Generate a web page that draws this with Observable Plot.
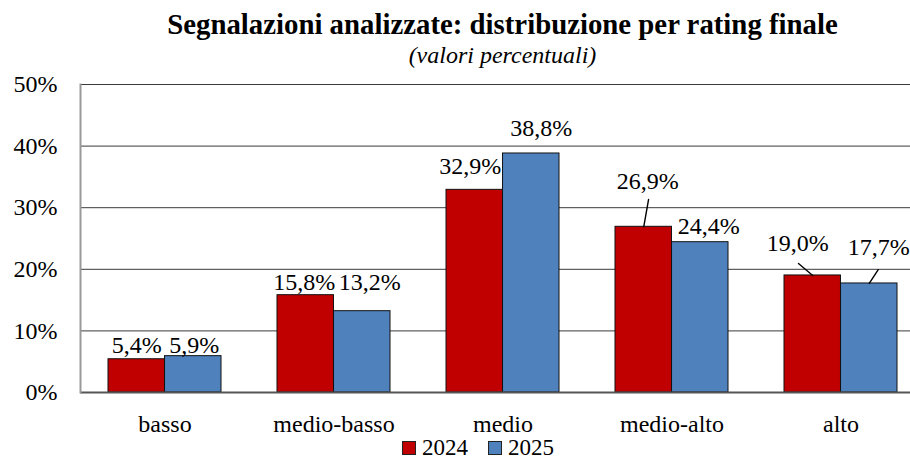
<!DOCTYPE html>
<html>
<head>
<meta charset="utf-8">
<script src="https://cdn.jsdelivr.net/npm/d3@7"></script>
<script src="https://cdn.jsdelivr.net/npm/@observablehq/plot@0.6"></script>
<style>
  html, body { margin: 0; padding: 0; background: #fff; overflow: hidden; }
  #wrap { position: relative; width: 910px; height: 461px; overflow: hidden; font-family: "Liberation Serif", "Times New Roman", Times, serif; color: #000; }
  #title { position: absolute; left: 80px; width: 845px; top: 10px; text-align: center; font-weight: bold; font-size: 28.8px; line-height: 28px; white-space: nowrap; }
  #subtitle { position: absolute; left: 80px; width: 845px; top: 43px; text-align: center; font-style: italic; font-size: 24px; line-height: 24px; white-space: nowrap; }
  #chart { position: absolute; left: 0; top: 70px; }
  #legend { position: absolute; left: 0; top: 437.5px; width: 910px; height: 20px; display: flex; justify-content: center; align-items: center; padding-left: 46px; box-sizing: border-box; font-size: 23px; line-height: 20px; }
  .item { display: flex; align-items: center; margin: 0 10px; }
  .sw { width: 12px; height: 12px; border: 1px solid #222; margin-right: 6px; }
  #chart svg text { font-family: "Liberation Serif", "Times New Roman", Times, serif; }
</style>
</head>
<body>
<div id="wrap">
  <div id="title">Segnalazioni analizzate: distribuzione per rating finale</div>
  <div id="subtitle">(valori percentuali)</div>
  <div id="chart"></div>
  <div id="legend"></div>
</div>
<script>
const categories = ["basso", "medio-basso", "medio", "medio-alto", "alto"];
const years = ["2024", "2025"];
const values2024 = [5.4, 15.8, 32.9, 26.9, 19.0];
const values2025 = [5.9, 13.2, 38.8, 24.4, 17.7];
const yTicks = [0, 10, 20, 30, 40, 50];
const yearColors = ["#C00000", "#4F81BD"];

const data = categories.flatMap((cat, i) => [
  {cat, year: years[0], value: values2024[i]},
  {cat, year: years[1], value: values2025[i]}
]);

const fmt = v => v.toFixed(1).replace(".", ",") + "%";

// layout / style constants
const W = 910, H = 370;
const xRange = [80, 925];
const padInner = 0.331, padOuter = 0.1655;
const step = (xRange[1] - xRange[0]) / (categories.length - padInner + 2 * padOuter);
const half = step * (1 - padInner) / 2;
const fs = 24;
const serif = '"Liberation Serif", "Times New Roman", Times, serif';
// label placement (pixel offsets: dx from bar centre, baseline offset from bar top)
const labelDx = [0, 1, -1.5, 7.5, -4.5, 10, 4, 8.5, -15, 9.5];
const labelBase = [-6, -3, -4.7, -20.7, -16, -17, -38, -8, -24, -28];
// leader lines: index -> [length px, rotate deg]
const leaders = {6: [27.7, 10], 8: [18.6, -50], 9: [16.5, 33]};

const marks = [
  Plot.ruleY(yTicks.filter(t => t > 0), {stroke: "#3a3a3a", strokeWidth: 1}),
  Plot.barY(data.filter(d => d.year === years[0]), {x: "cat", y: "value", fill: yearColors[0], stroke: "#111", strokeWidth: 1, insetRight: half}),
  Plot.barY(data.filter(d => d.year === years[1]), {x: "cat", y: "value", fill: yearColors[1], stroke: "#111", strokeWidth: 1, insetLeft: half}),
  Plot.ruleY([0], {stroke: "#555", strokeWidth: 2}),
  Plot.frame({anchor: "left", stroke: "#999", strokeWidth: 2}),
  Plot.axisY({ticks: yTicks, tickFormat: d => d + "%", tickSize: 0, tickPadding: 23, fontSize: fs, fontFamily: serif, label: null}),
  Plot.axisX({tickSize: 0, tickPadding: 22.7, fontSize: fs, fontFamily: serif, label: null})
];

data.forEach((d, i) => {
  const side = d.year === years[0] ? -half / 2 : half / 2;
  marks.push(Plot.text([d], {x: "cat", y: "value", text: d => fmt(d.value), dx: side + labelDx[i], dy: labelBase[i] - 0.32 * fs, fontSize: fs, fontFamily: serif, fill: "#000"}));
  if (leaders[i]) {
    marks.push(Plot.vector([d], {x: "cat", y: "value", dx: side, anchor: "start", length: leaders[i][0], rotate: leaders[i][1], r: 0, stroke: "#000", strokeWidth: 1.4}));
  }
});

const chart = Plot.plot({
  width: W,
  height: H,
  marginLeft: 80,
  marginRight: 0,
  marginTop: 14,
  marginBottom: 48,
  style: {fontFamily: serif, fontSize: fs + "px", color: "#000", background: "#fff", overflow: "visible"},
  x: {domain: categories, range: xRange, paddingInner: padInner, paddingOuter: padOuter, label: null},
  y: {domain: [0, 50], label: null},
  marks
});
document.getElementById("chart").appendChild(chart);

const legend = document.getElementById("legend");
years.forEach((y, i) => {
  const item = document.createElement("div");
  item.className = "item";
  const sw = document.createElement("div");
  sw.className = "sw";
  sw.style.background = yearColors[i];
  item.appendChild(sw);
  const t = document.createElement("span");
  t.textContent = y;
  item.appendChild(t);
  legend.appendChild(item);
});
</script>
</body>
</html>
